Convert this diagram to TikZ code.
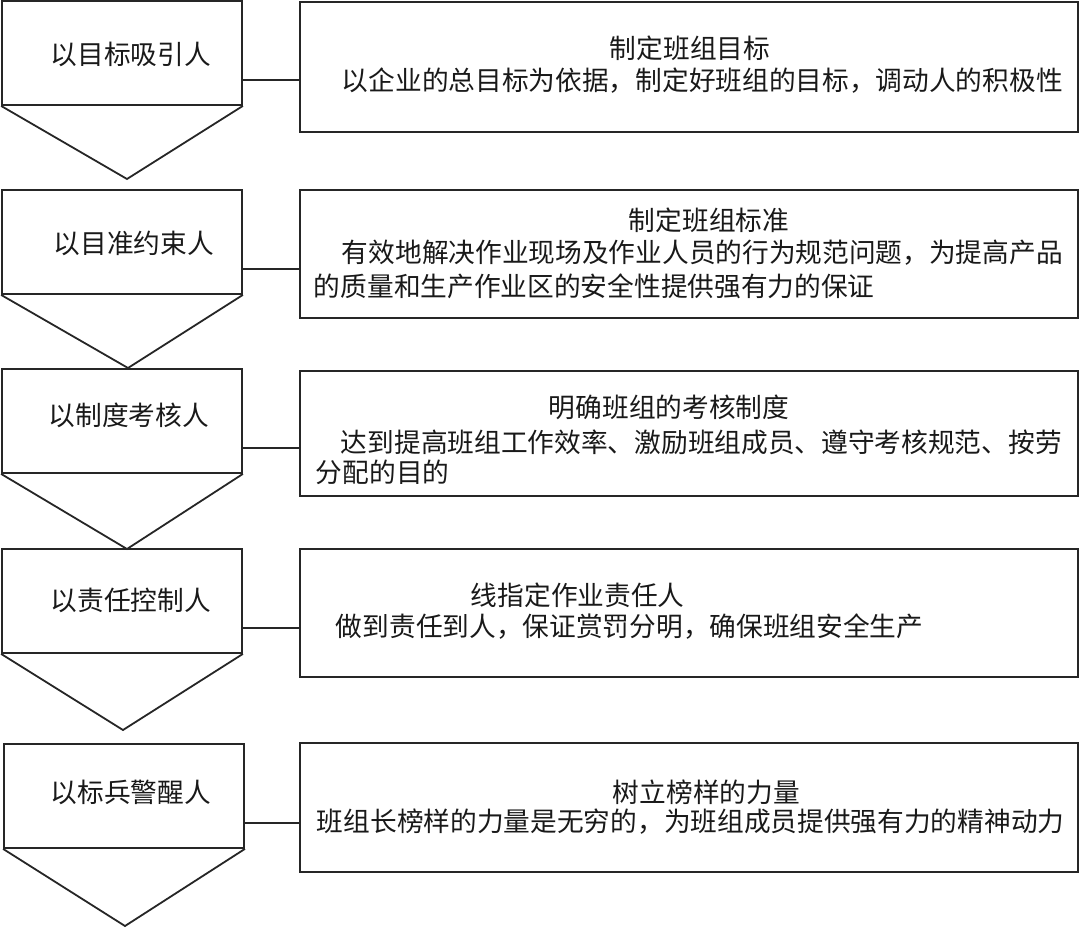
\documentclass[tikz,border=0pt]{standalone}
\usepackage{fontspec}
\setmainfont{Noto Sans CJK SC}
\begin{document}
\begin{tikzpicture}[x=1pt,y=-1pt,line width=1.8pt,draw=black!85,
  leftbox/.style={draw,minimum width=240pt,minimum height=104pt,inner sep=0pt},
  infobox/.style={draw,minimum width=778pt,inner sep=0pt},
  txt/.style={anchor=west,inner sep=0pt,text=black!90,font=\fontsize{26.7}{30}\selectfont}]
\useasboundingbox (0,0) rectangle (1080,928);
% left column
\node[leftbox] (s1) at (122,53) {};
\node[leftbox] (s2) at (122,242) {};
\node[leftbox] (s3) at (122,421) {};
\node[leftbox] (s4) at (122,601) {};
\node[leftbox] (s5) at (124,796) {};
\coordinate (v1) at (127,179);
\coordinate (v2) at (128,368);
\coordinate (v3) at (127,549);
\coordinate (v4) at (123,730);
\coordinate (v5) at (125,926);
\draw (s1.south west) -- (v1) -- (s1.south east)
      (s2.south west) -- (v2) -- (s2.south east)
      (s3.south west) -- (v3) -- (s3.south east)
      (s4.south west) -- (v4) -- (s4.south east)
      (s5.south west) -- (v5) -- (s5.south east);
\node[txt] (l1) at (50,54) {以目标吸引人};
\node[txt] (l2) at (53,243) {以目准约束人};
\node[txt] (l3) at (48,415) {以制度考核人};
\node[txt] (l4) at (50,600) {以责任控制人};
\node[txt] (l5) at (50,792) {以标兵警醒人};
% right column
\node[infobox,minimum height=130pt] (b1) at (689,67) {};
\node[infobox,minimum height=128pt] (b2) at (689,254) {};
\node[infobox,minimum height=125pt] (b3) at (689,433.5) {};
\node[infobox,minimum height=128pt] (b4) at (689,613) {};
\node[infobox,minimum height=129pt] (b5) at (689,807.5) {};
\node[txt] (h1) at (609,48) {制定班组目标};
\node[txt] (p1) at (341,81) {以企业的总目标为依据，制定好班组的目标，调动人的积极性};
\node[txt] (h2) at (628,220) {制定班组标准};
\node[txt] (p2) at (341,253) {有效地解决作业现场及作业人员的行为规范问题，为提高产品};
\node[txt] (q2) at (313,286) {的质量和生产作业区的安全性提供强有力的保证};
\node[txt] (h3) at (548,407) {明确班组的考核制度};
\node[txt] (p3) at (340,442) {达到提高班组工作效率、激励班组成员、遵守考核规范、按劳};
\node[txt] (q3) at (315,472) {分配的目的};
\node[txt] (h4) at (470,595) {线指定作业责任人};
\node[txt] (p4) at (335,627) {做到责任到人，保证赏罚分明，确保班组安全生产};
\node[txt] (h5) at (612,792) {树立榜样的力量};
\node[txt] (p5) at (316,822) {班组长榜样的力量是无穷的，为班组成员提供强有力的精神动力};
% connectors
\draw ([yshift=-27pt]s1.east) -- ([yshift=-27pt]s1.east -| b1.west)
      ([yshift=-27pt]s2.east) -- ([yshift=-27pt]s2.east -| b2.west)
      ([yshift=-27pt]s3.east) -- ([yshift=-27pt]s3.east -| b3.west)
      ([yshift=-27pt]s4.east) -- ([yshift=-27pt]s4.east -| b4.west)
      ([yshift=-27pt]s5.east) -- ([yshift=-27pt]s5.east -| b5.west);
\end{tikzpicture}
\end{document}
